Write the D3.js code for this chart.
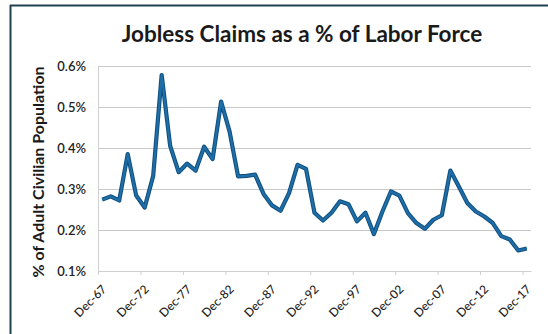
<!DOCTYPE html>
<html>
<head>
<meta charset="utf-8">
<script src="https://cdn.jsdelivr.net/npm/d3@7"></script>
<style>
  body { margin: 0; background: #fff; }
  svg { display: block; }
  text { font-family: Lato, "Open Sans", "Liberation Sans", sans-serif; }
</style>
</head>
<body>
<svg id="chart" width="548" height="334"></svg>
<script>
// ---- data ----
const years = d3.range(1967, 2018);
const categories = years.map(y => "Dec-" + String(y % 100).padStart(2, "0"));
const claimsPct = [
  0.274, 0.282, 0.272, 0.385, 0.284, 0.255, 0.332, 0.578, 0.405, 0.341,
  0.362, 0.345, 0.403, 0.373, 0.513, 0.440, 0.331, 0.332, 0.335, 0.288,
  0.260, 0.247, 0.290, 0.359, 0.349, 0.242, 0.223, 0.242, 0.270, 0.263,
  0.221, 0.242, 0.190, 0.245, 0.294, 0.284, 0.241, 0.217, 0.203, 0.225,
  0.236, 0.345, 0.306, 0.266, 0.245, 0.233, 0.217, 0.185, 0.177, 0.150,
  0.155
];
const yTicks = [0.1, 0.2, 0.3, 0.4, 0.5, 0.6];
const tickLabels = categories.filter((c, i) => i % 5 === 0);
const titleText = "Jobless Claims as a % of Labor Force";
const yTitle = "% of Adult Civilian Population";

// ---- layout ----
const svg = d3.select("#chart");
const plotLeft = 98, plotRight = 531, plotTop = 66, plotBottom = 271;

const x = d3.scaleBand().domain(categories).range([plotLeft, plotRight]).padding(0);
const y = d3.scaleLinear().domain([0.1, 0.6]).range([plotBottom, plotTop]);

// frame
svg.append("line").attr("x1", 10.5).attr("x2", 10.5).attr("y1", 5).attr("y2", 334)
  .attr("stroke", "#23404f").attr("stroke-width", 2);
svg.append("line").attr("x1", 10).attr("x2", 548).attr("y1", 5.5).attr("y2", 5.5)
  .attr("stroke", "#23404f").attr("stroke-width", 2);

// gridlines
svg.append("g").selectAll("line").data(yTicks.slice(1)).join("line")
  .attr("x1", plotLeft).attr("x2", plotRight)
  .attr("y1", d => Math.round(y(d)) + 0.5).attr("y2", d => Math.round(y(d)) + 0.5)
  .attr("stroke", "#c9c9c9").attr("stroke-width", 1);

// y axis
const yAxis = d3.axisLeft(y).tickValues(yTicks).tickSize(0).tickPadding(12)
  .tickFormat(d => d3.format(".1f")(d) + "%");
const gy = svg.append("g").attr("transform", `translate(${plotLeft},0)`).call(yAxis);
gy.select(".domain").attr("stroke", "#cfcfcf");
gy.selectAll("text").attr("font-size", 13).attr("fill", "#222").attr("font-weight", 600);

// x axis
const xAxis = d3.axisBottom(x).tickValues(tickLabels).tickSize(0).tickFormat(d => d);
const gx = svg.append("g").attr("transform", `translate(0,${plotBottom})`).call(xAxis);
gx.select(".domain").attr("stroke", "#cfcfcf");
gx.selectAll(".tick line").remove();
gx.selectAll(".tick text")
  .attr("font-size", 12).attr("fill", "#222").attr("font-weight", 500)
  .attr("text-anchor", "end")
  .attr("dy", 0).attr("y", 0)
  .attr("transform", "translate(5,19) rotate(-45)");
// tick marks at category boundaries
gx.selectAll(".tickmark").data(tickLabels).join("line").attr("class", "tickmark")
  .attr("x1", d => x(d) + 0.5).attr("x2", d => x(d) + 0.5)
  .attr("y1", 0).attr("y2", 4).attr("stroke", "#cfcfcf");

// line
const line = d3.line()
  .x((d, i) => x(categories[i]) + x.bandwidth() / 2)
  .y(d => y(d));
svg.append("path").datum(claimsPct)
  .attr("d", line).attr("fill", "none")
  .attr("stroke", "#0f4f7f").attr("stroke-width", 4.2).attr("stroke-linejoin", "round");
svg.append("path").datum(claimsPct)
  .attr("d", line).attr("fill", "none")
  .attr("stroke", "#1f6ea8").attr("stroke-width", 2.2).attr("stroke-linejoin", "round");

// title
svg.append("text").attr("x", 302).attr("y", 42).attr("text-anchor", "middle")
  .attr("font-size", 22.5).attr("font-weight", 700).attr("fill", "#1a1a1a").text(titleText);

// y title
svg.append("text").attr("transform", "translate(44,172) rotate(-90)")
  .attr("text-anchor", "middle").attr("font-size", 16).attr("font-weight", 700)
  .attr("fill", "#1a1a1a").text(yTitle);
</script>
</body>
</html>
